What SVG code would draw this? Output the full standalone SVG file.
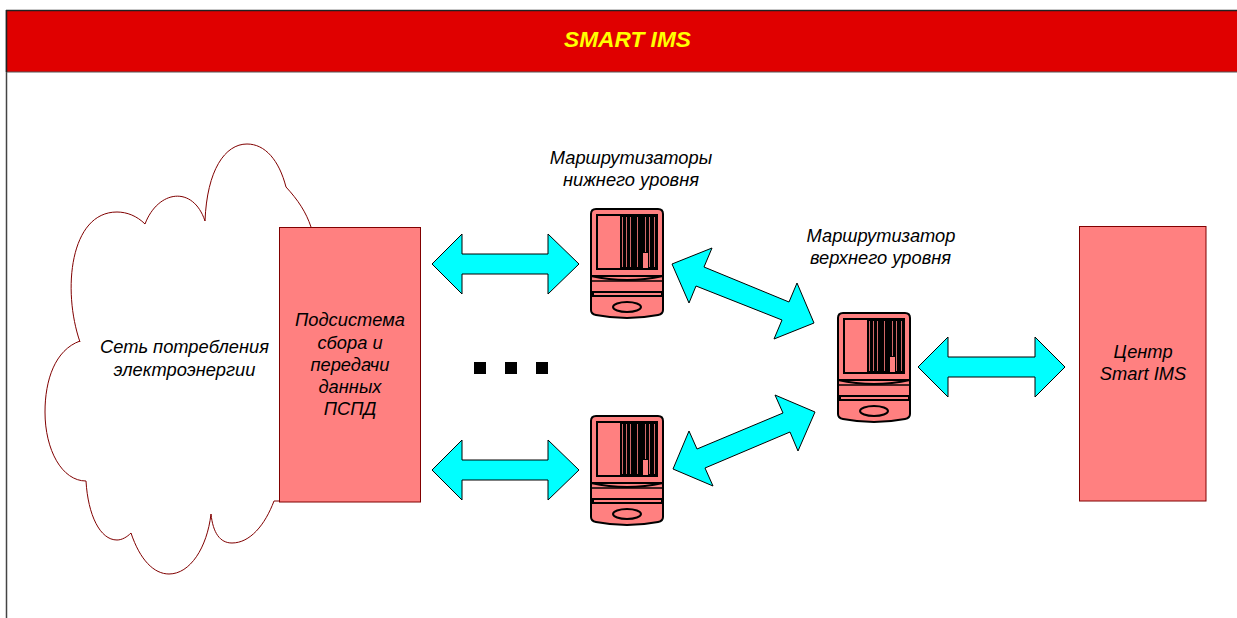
<svg xmlns="http://www.w3.org/2000/svg" width="1237" height="618" viewBox="0 0 1237 618">
<style>
text{font-family:"Liberation Sans",Arial,sans-serif;font-style:italic;font-size:18.300px;fill:#000;text-anchor:middle}
.box{fill:#ff8080;stroke:#800000;stroke-width:1}
.arrow{fill:#00ffff;stroke:#000;stroke-width:1;stroke-linejoin:miter}
.dot{fill:#000}
.k{fill:none;stroke:#000;stroke-width:2}
</style>
<defs>
<g id="router">
<path d="M591 214Q591 209 596 209H658Q663 209 663 214V310Q663 314 658 315Q627 321 596 315Q591 314 591 310Z" fill="#ff8080" stroke="#000" stroke-width="2"/>
<rect x="597" y="215" width="60" height="54" fill="#ff8080" stroke="#000" stroke-width="2"/>
<rect x="620" y="215" width="37" height="54" fill="#000"/>
<g fill="#d06868"><rect x="622" y="217" width="1" height="50"/><rect x="626" y="217" width="1" height="50"/><rect x="630" y="217" width="1" height="50"/><rect x="637" y="217" width="1" height="50"/><rect x="645" y="217" width="1" height="35"/><rect x="649" y="217" width="1" height="50"/><rect x="654" y="217" width="1" height="50"/></g>
<rect x="643" y="253" width="5" height="15" fill="#ff8080"/>
<path d="M591 276H663M591 276Q627 284 663 276" class="k"/>
<path d="M591 281H663" fill="none" stroke="#000" stroke-width="1.500"/>
<rect x="593" y="292" width="69" height="4" class="k"/>
<ellipse cx="627" cy="307" rx="14" ry="5" class="k"/>
</g>
</defs>
<rect id="bg" x="0" y="0" width="1237" height="618" fill="#fff"/>
<g id="frame">
<path d="M6.500 10V618" fill="none" stroke="#444" stroke-width="1.500"/>
<rect x="6" y="10" width="1231" height="62" fill="#e00000"/>
<path d="M6 10.500H1237" stroke="#222" stroke-width="1.500" fill="none"/>
<path d="M6 72H1237" stroke="#555" stroke-width="1" fill="none"/>
<path d="M6.500 10V72" stroke="#222" stroke-width="1.500" fill="none"/>
<text x="627.500" y="47" style="font-size:22.700px;font-weight:bold;fill:#ffff00">SMART IMS</text>
</g>
<g id="cloud">
<path d="M80 342C62 290 70 212 117 212C127 212 137 216 145 224C158 190 193 185 205 221C207 170 225 144 247 144C265 144 279 160 286 187C298 200 306 212 311 227M80 341C55 350 45 380 45 412C45 450 62 481 86 481C88 515 100 540 117 540C122 540 127 537 131 533C140 560 154 574 169 574C190 574 207 548 211 514C213 533 220 543 232 543C250 543 265 525 274 501H279" fill="#fff" stroke="#800000" stroke-width="1"/>
<text x="184.500" y="353">Сеть потребления</text>
<text x="184.500" y="376">электроэнергии</text>
</g>
<g id="pspd">
<rect class="box" x="279.500" y="227.500" width="141" height="274.500"/>
<text x="350" y="326">Подсистема</text>
<text x="350" y="349">сбора и</text>
<text x="350" y="371">передачи</text>
<text x="350" y="393">данных</text>
<text x="350" y="415">ПСПД</text>
</g>
<g id="center">
<rect class="box" x="1079.500" y="226.500" width="126.500" height="274.500"/>
<text x="1143" y="358">Центр</text>
<text x="1143" y="380">Smart IMS</text>
</g>
<g id="router-top"><use href="#router"/><text x="631" y="164">Маршрутизаторы</text><text x="631" y="186">нижнего уровня</text></g>
<g id="router-bottom"><use href="#router" y="207"/></g>
<g id="router-upper"><use href="#router" x="247" y="104"/><text x="881" y="242">Маршрутизатор</text><text x="880.500" y="264">верхнего уровня</text></g>
<g id="ellipsis"><rect class="dot" x="474" y="362" width="12" height="12"/><rect class="dot" x="505" y="362" width="12" height="12"/><rect class="dot" x="536" y="362" width="12" height="12"/></g>
<g id="connectors">
<path class="arrow" d="M432 264L462 234V254H548V234L579 264L548 294V274H462V294Z"/>
<path class="arrow" d="M432 470L462 440V460H548V440L579 470L548 500V480H462V500Z"/>
<path class="arrow" d="M918 367L948 337V357H1035V337L1065 367L1035 397V377H948V397Z"/>
<path class="arrow" d="M672 264L712 248L704 267L789 302L797 283L814 323L774 339L782 320L696 286L689 303Z"/>
<path class="arrow" d="M815 412L775 395L783 413L697 449L689 431L673 469L713 486L705 468L790 432L798 451Z"/>
</g>
</svg>
